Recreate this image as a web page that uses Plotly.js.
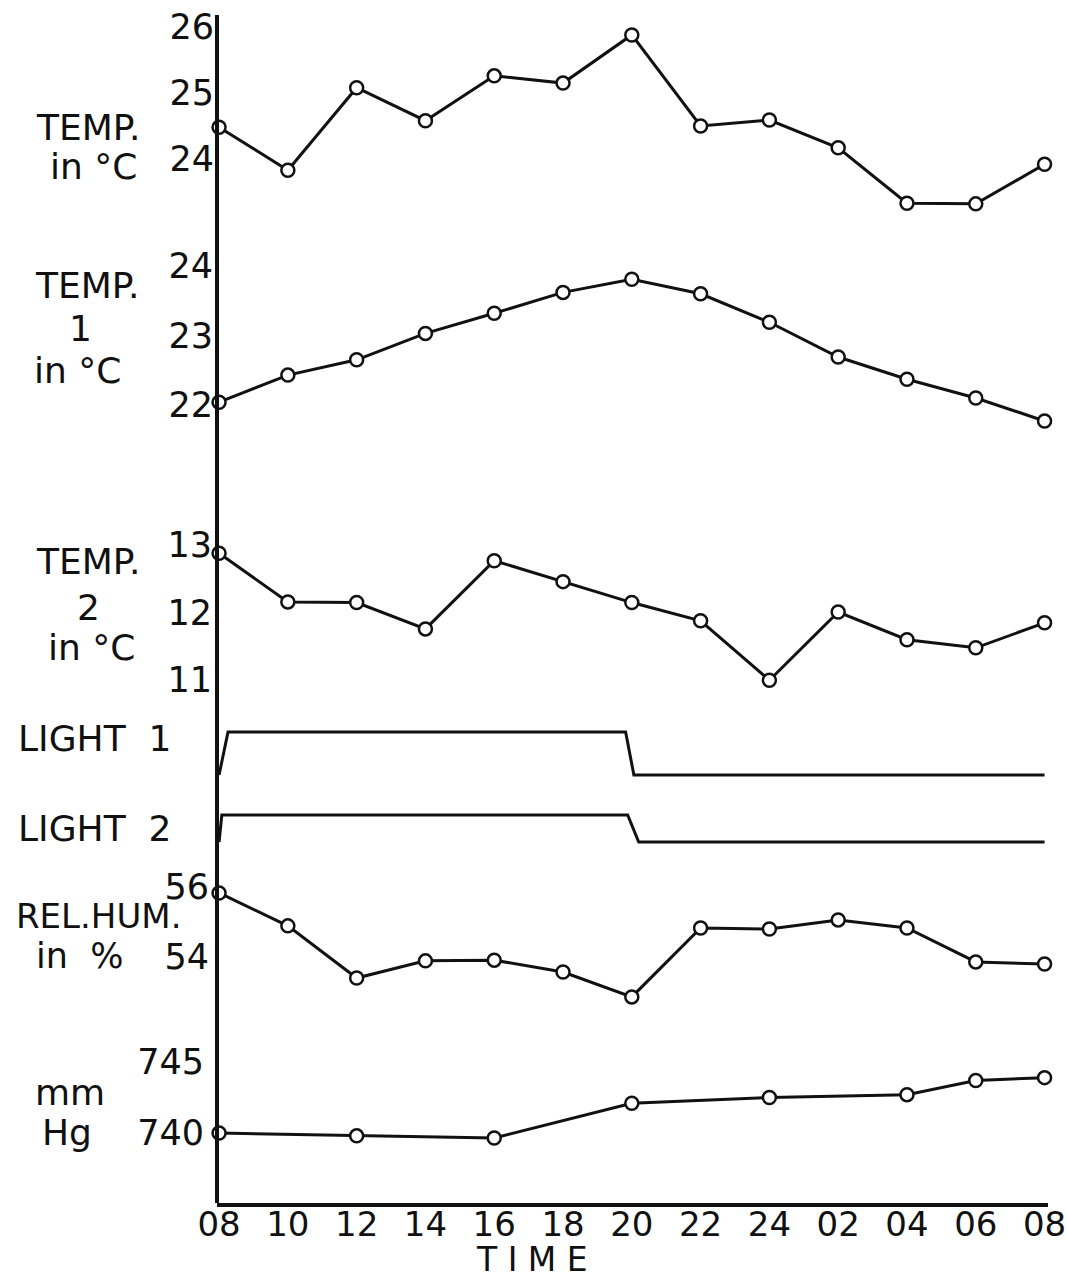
<!DOCTYPE html>
<html>
<head>
<meta charset="utf-8">
<script src="https://cdn.plot.ly/plotly-3.0.1.min.js"></script>
<style>html,body{margin:0;padding:0;background:#fff;}#chart{width:1067px;height:1281px;}</style>
</head>
<body>
<div id="chart"></div>
<script>
// ---- data ----
const timeLabels = ['08','10','12','14','16','18','20','22','24','02','04','06','08'];
const tempAir = [24.48, 23.83, 25.08, 24.58, 25.26, 25.15, 25.88, 24.50, 24.59, 24.17, 23.33, 23.32, 23.92];
const temp1 = [22.04, 22.43, 22.65, 23.03, 23.32, 23.62, 23.81, 23.60, 23.19, 22.69, 22.37, 22.10, 21.77];
const temp2 = [12.88, 12.16, 12.15, 11.76, 12.77, 12.46, 12.15, 11.88, 11.00, 12.01, 11.60, 11.48, 11.85];
const light1Time = [0, 0.13, 5.91, 6.03, 12];
const light1 = [0, 1, 1, 0, 0];
const light2Time = [0, 0.04, 5.94, 6.10, 12];
const light2 = [0, 1, 1, 0, 0];
const relHum = [55.83, 54.89, 53.40, 53.89, 53.91, 53.57, 52.86, 54.83, 54.80, 55.06, 54.83, 53.86, 53.80];
const hgTime = [0, 2, 4, 6, 8, 10, 11, 12];
const hgPressure = [740.0, 739.8, 739.65, 742.1, 742.5, 742.7, 743.7, 743.9];

// ---- layout helpers ----
const W = 1067, H = 1281, L = 217, R = 19, T = 15, B = 78;
const py = p => (H - B - p) / (H - B - T);
const px = p => (p - L) / (W - L - R);
const idx = timeLabels.map((_, i) => i);
const FONT = 'DejaVu Sans, sans-serif';
const INK = '#111';

const lineStyle = {color: INK, width: 3};
const markerStyle = {symbol: 'circle', size: 13, color: '#fff', line: {color: INK, width: 2.5}};

function mk(x, y, ya, markers) {
  return {x: x, y: y, xaxis: 'x', yaxis: ya, type: 'scatter',
    mode: markers ? 'lines+markers' : 'lines', line: lineStyle,
    marker: markerStyle, cliponaxis: false, hoverinfo: 'skip', showlegend: false};
}

const traces = [
  mk(idx, tempAir, 'y', true),
  mk(idx, temp1, 'y2', true),
  mk(idx, temp2, 'y3', true),
  mk(light1Time, light1, 'y4', false),
  mk(light2Time, light2, 'y5', false),
  mk(idx, relHum, 'y6', true),
  mk(hgTime, hgPressure, 'y7', true)
];

function yax(top, bottom, range, tickvals, standoff) {
  return {domain: [py(bottom), py(top)], range: range, tickvals: tickvals,
    ticks: '', showline: false, showgrid: false, zeroline: false, fixedrange: true,
    ticklabelstandoff: standoff, tickfont: {family: FONT, size: 35, color: INK}, anchor: 'x'};
}

function ann(text, x, y, xanchor, size, yanchor) {
  return {text: text, xref: 'paper', yref: 'paper', x: px(x), y: py(y),
    xanchor: xanchor || 'center', yanchor: yanchor || 'middle', showarrow: false,
    font: {family: FONT, size: size || 36, color: INK}};
}

const layout = {
  width: W, height: H,
  margin: {l: L, r: R, t: T, b: B},
  paper_bgcolor: '#fff', plot_bgcolor: 'rgba(0,0,0,0)',
  showlegend: false,
  xaxis: {range: [-0.03, 12.05], tickvals: idx, ticktext: timeLabels, ticks: '',
    showgrid: false, zeroline: false, showline: true, linecolor: INK, linewidth: 4,
    anchor: 'y7', tickfont: {family: FONT, size: 34, color: INK}, ticklabelstandoff: -12, fixedrange: true},
  yaxis:  yax(15, 230, [22.924, 26.182], [24, 25, 26], 2),
  yaxis2: yax(240, 440, [21.496, 24.374], [22, 23, 24], 3),
  yaxis3: yax(520, 700, [10.707, 13.373], [11, 12, 13], 4),
  yaxis4: {domain: [py(785), py(720)], range: [-0.233, 1.279], visible: false, fixedrange: true, anchor: 'x'},
  yaxis5: {domain: [py(850), py(800)], range: [-0.296, 1.556], visible: false, fixedrange: true, anchor: 'x'},
  yaxis6: yax(870, 1010, [52.486, 56.486], [54, 56], 7),
  yaxis7: yax(1040, 1203, [735.07, 746.55], [740, 745], 12),
  shapes: [
    {type: 'line', xref: 'paper', yref: 'paper', x0: 0, x1: 0, y0: 0, y1: 1,
     line: {color: INK, width: 4}, layer: 'above'}
  ],
  annotations: [
    ann('TEMP.', 88, 127), ann('in °C', 93, 167),
    ann('TEMP.', 87, 285), ann('1', 80, 328), ann('in °C', 77, 371),
    ann('TEMP.', 88, 561), ann('2', 88, 607), ann('in °C', 91, 647),
    ann('LIGHT  1', 16, 738, 'left'),
    ann('LIGHT  2', 16, 829, 'left'),
    ann('REL.HUM.', 98, 916, 'center', 34), ann('in  %', 79, 956, 'center', 35),
    ann('mm', 70, 1092), ann('Hg', 67, 1132),
    ann('T I M E', 532, 1281, 'center', 33, 'bottom')
  ]
};

Plotly.newPlot('chart', traces, layout, {staticPlot: true, displayModeBar: false});
</script>
</body>
</html>
